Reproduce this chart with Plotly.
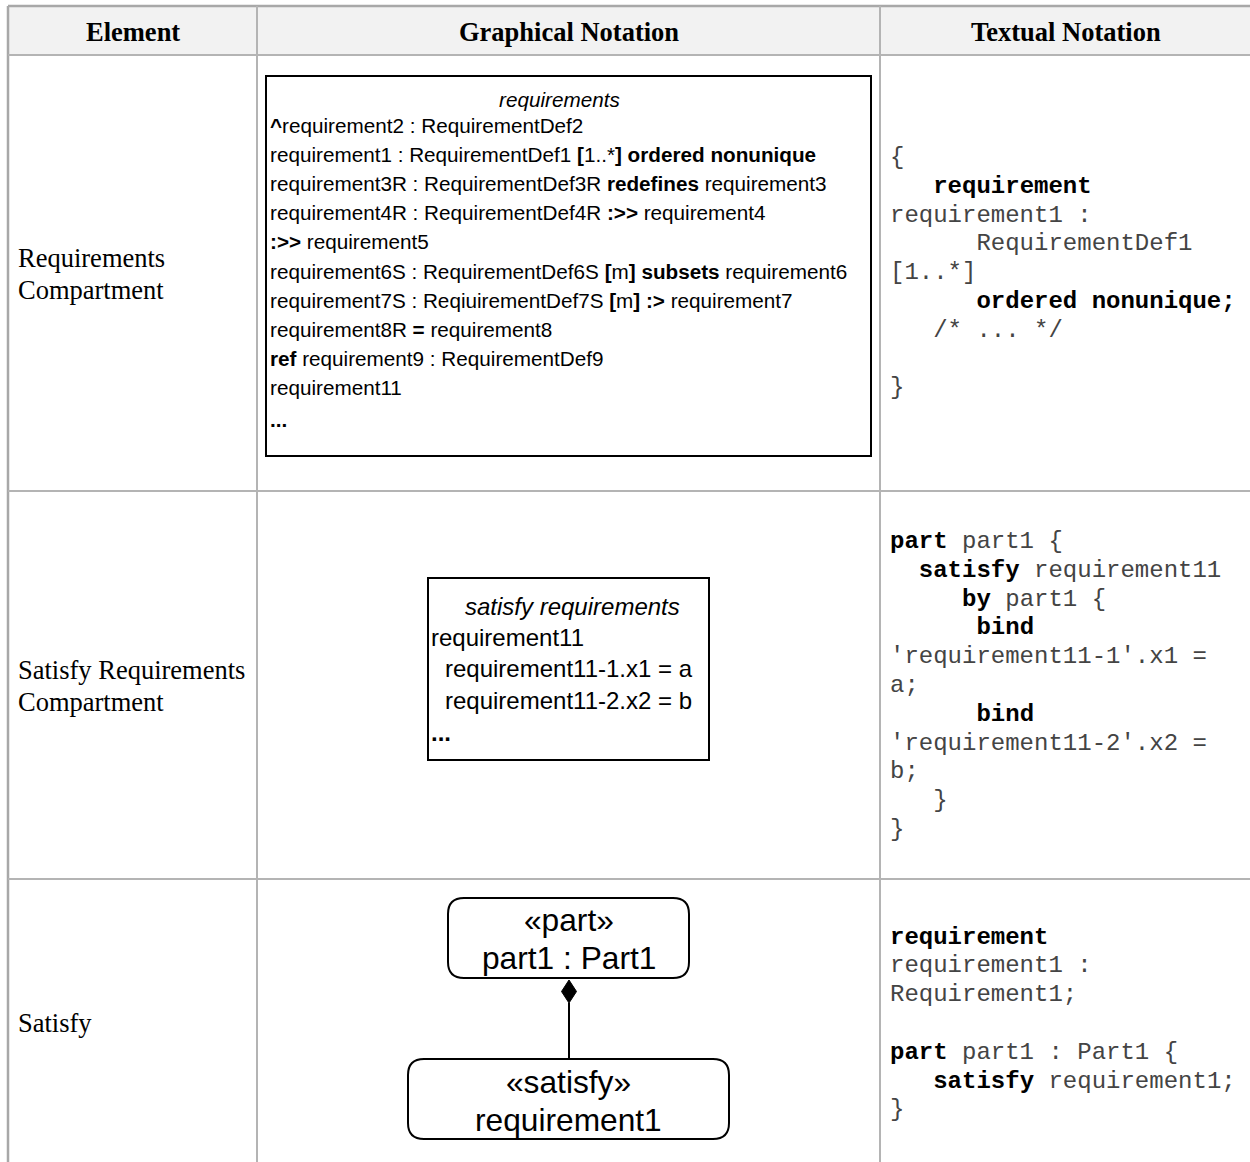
import plotly.graph_objects as go

W, H = 1250, 1162

# ---------------- data (text content) ----------------
headers = ["Element", "Graphical Notation", "Textual Notation"]
row_labels = [["Requirements", "Compartment"],
              ["Satisfy Requirements", "Compartment"],
              ["Satisfy"]]

req_title = "<i>requirements</i>"
req_lines = [
    "<b>^</b>requirement2 : RequirementDef2",
    "requirement1 : RequirementDef1 <b>[</b>1..*<b>] ordered nonunique</b>",
    "requirement3R : RequirementDef3R <b>redefines</b> requirement3",
    "requirement4R : RequirementDef4R <b>:>></b> requirement4",
    "<b>:>></b> requirement5",
    "requirement6S : RequirementDef6S <b>[</b>m<b>] subsets</b> requirement6",
    "requirement7S : ReqiuirementDef7S <b>[</b>m<b>] :></b> requirement7",
    "requirement8R <b>=</b> requirement8",
    "<b>ref</b> requirement9 : RequirementDef9",
    "requirement11",
    "<b>...</b>",
]

sat_title = "<i>satisfy requirements</i>"
sat_lines = [
    ("requirement11", 0),
    ("requirement11-1.x1 = a", 1),
    ("requirement11-2.x2 = b", 1),
    ("<b>...</b>", 0),
]

part_box_text = ["«part»", "part1 : Part1"]
satisfy_box_text = ["«satisfy»", "requirement1"]

code1 = [
    "{",
    "   <b>requirement</b>",
    "requirement1 :",
    "      RequirementDef1",
    "[1..*]",
    "      <b>ordered nonunique;</b>",
    "   /* ... */",
    "",
    "}",
]
code2 = [
    "<b>part</b> part1 {",
    "  <b>satisfy</b> requirement11",
    "     <b>by</b> part1 {",
    "      <b>bind</b>",
    "'requirement11-1'.x1 =",
    "a;",
    "      <b>bind</b>",
    "'requirement11-2'.x2 =",
    "b;",
    "   }",
    "}",
]
code3 = [
    "<b>requirement</b>",
    "requirement1 :",
    "Requirement1;",
    "",
    "<b>part</b> part1 : Part1 {",
    "   <b>satisfy</b> requirement1;",
    "}",
]

# ---------------- layout geometry ----------------
L, R, TOP, BOT = 8, 1270, 6, 1185
HDR_B, ROW1_B, ROW2_B = 55, 491, 879
C1, C2 = 257, 880

SERIF = "Liberation Serif"
MONO = "Liberation Mono"
SANS = "Liberation Sans"
GRID = "#b4b4b4"

fig = go.Figure()
shapes = []
ann = []

def line(x0, y0, x1, y1, color=GRID, width=2):
    shapes.append(dict(type="line", x0=x0, y0=y0, x1=x1, y1=y1,
                       xref="x", yref="y", line=dict(color=color, width=width)))

# header background
shapes.append(dict(type="rect", x0=L, y0=TOP, x1=R, y1=HDR_B, xref="x", yref="y",
                   fillcolor="#f2f2f2", line=dict(width=0), layer="below"))
# table grid
line(L, TOP, R, TOP, "#a8a8a8", 2.5)
line(L, TOP, L, BOT, "#a8a8a8", 2.5)
for y in (HDR_B, ROW1_B, ROW2_B):
    line(L, y, R, y)
for x in (C1, C2):
    line(x, TOP, x, BOT)

def text(x, y, s, family, size, xanchor="left", color="#000000"):
    if family == MONO:
        s = s.replace(" ", "\u00a0")
        s = s.replace("<b>", "<b><span style='color:#000000'>").replace("</b>", "</span></b>")
    ann.append(dict(x=x, y=y, xref="x", yref="y", text=s,
                    showarrow=False, xanchor=xanchor, yanchor="middle",
                    font=dict(family=family, size=size, color=color), borderpad=0))

# headers
for cx, h in zip([(L + C1) / 2, (C1 + C2) / 2, (C2 + 1252) / 2], headers):
    text(cx, 32, "<b>" + h + "</b>", SERIF, 26.5, "center")

# row labels
label_y = [[258, 290], [670, 702], [1023]]
for lines_, ys in zip(row_labels, label_y):
    for s, y in zip(lines_, ys):
        text(17, y, s, SERIF, 26.5)

# ---- requirements compartment box ----
shapes.append(dict(type="rect", x0=266, y0=76, x1=871, y1=456, xref="x", yref="y",
                   line=dict(color="#000000", width=2), fillcolor="rgba(0,0,0,0)"))
text(559, 99, req_title, SANS, 20.7, "center")
y0, dy = 125, 29.2
for i, s in enumerate(req_lines):
    yy = y0 + i * dy
    if s == "<b>...</b>":
        yy += 2
    text(269, yy, s, SANS, 20.7)

# ---- satisfy requirements box ----
shapes.append(dict(type="rect", x0=428, y0=578, x1=709, y1=760, xref="x", yref="y",
                   line=dict(color="#000000", width=2), fillcolor="rgba(0,0,0,0)"))
text(572, 606, sat_title, SANS, 24, "center")
for i, (s, ind) in enumerate(sat_lines):
    yy = 637 + i * 31.5
    if s == "<b>...</b>":
        yy += 1
    text(430 + ind * 14, yy, s, SANS, 24)

# ---- part / satisfy diagram ----
def rounded(x0, y0, x1, y1, r):
    return (f"M {x0+r},{y0} L {x1-r},{y0} Q {x1},{y0} {x1},{y0+r} "
            f"L {x1},{y1-r} Q {x1},{y1} {x1-r},{y1} L {x0+r},{y1} "
            f"Q {x0},{y1} {x0},{y1-r} L {x0},{y0+r} Q {x0},{y0} {x0+r},{y0} Z")

shapes.append(dict(type="path", path=rounded(448, 898, 689, 978, 16), xref="x", yref="y",
                   line=dict(color="#000000", width=2), fillcolor="white"))
shapes.append(dict(type="path", path=rounded(408, 1059, 729, 1139, 16), xref="x", yref="y",
                   line=dict(color="#000000", width=2), fillcolor="white"))
# connector and composition diamond
line(569, 1003, 569, 1059, "#000000", 2)
shapes.append(dict(type="path", path="M 569,980 L 576.5,991.5 L 569,1003 L 561.5,991.5 Z",
                   xref="x", yref="y", line=dict(color="#000000", width=1), fillcolor="#000000"))
text(568.5, 920, part_box_text[0], SANS, 31.7, "center")
text(568.5, 958, part_box_text[1], SANS, 31.7, "center")
text(568.5, 1082, satisfy_box_text[0], SANS, 31.7, "center")
text(568.5, 1120, satisfy_box_text[1], SANS, 31.7, "center")

# ---- textual notation code ----
CODE_X = 889
for code, ystart in ((code1, 157.5), (code2, 541.5), (code3, 937)):
    for i, s in enumerate(code):
        if s:
            text(CODE_X, ystart + i * 28.8, s, MONO, 24, color="#444444")

fig.update_layout(
    width=W, height=H, margin=dict(l=0, r=0, t=0, b=0),
    paper_bgcolor="white", plot_bgcolor="white",
    xaxis=dict(range=[0, W], visible=False, fixedrange=True),
    yaxis=dict(range=[H, 0], visible=False, fixedrange=True),
    shapes=shapes, annotations=ann, showlegend=False,
)
fig.write_html(
    "out.html",
    config={"displayModeBar": False, "staticPlot": True},
    post_script="document.body.style.margin='0';document.body.style.overflow='hidden';",
)
